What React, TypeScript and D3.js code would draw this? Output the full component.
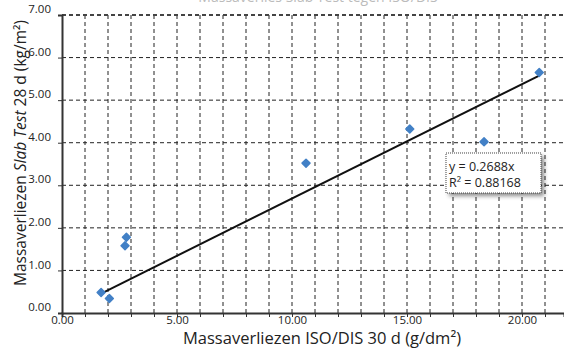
import React, { useEffect, useRef } from "react";
import * as d3 from "d3";

// meetpunten
const isoValues = [1.7, 2.06, 2.74, 2.8, 10.61, 15.12, 18.35, 20.75];
const slabValues = [0.48, 0.34, 1.58, 1.78, 3.52, 4.32, 4.02, 5.65];
const slope = 0.2688;
const eqLines = ["y = 0.2688x", "R² = 0.88168"];
const xTickLabels = [0, 5, 10, 15, 20];
const yTickLabels = [0, 1, 2, 3, 4, 5, 6, 7];

const App = () => {
  const ref = useRef<SVGSVGElement>(null);

  useEffect(() => {
    const svg = d3.select(ref.current);
    svg.selectAll("*").remove();

    const width = 564;
    const height = 349;
    const margin = { top: 15, right: 0, bottom: 36, left: 62 };
    const font = "'Open Sans', 'Liberation Sans', Arial, sans-serif";

    const x = d3
      .scaleLinear()
      .domain([0, (width - margin.left) / 23])
      .range([margin.left, width - margin.right]);
    const y = d3
      .scaleLinear()
      .domain([0, 7])
      .range([height - margin.bottom, margin.top]);

    svg
      .attr("width", width)
      .attr("height", height)
      .style("position", "absolute")
      .style("left", "0px")
      .style("top", "0px");

    // titel (afgesneden bovenaan)
    svg
      .append("text")
      .attr("x", 318)
      .attr("y", 2)
      .attr("text-anchor", "middle")
      .attr("font-family", font)
      .attr("font-size", "14px")
      .attr("fill", "#bbb")
      .text("Massaverlies Slab Test tegen ISO/DIS");

    // rasterlijnen
    const grid = svg.append("g");
    d3.range(1, Math.floor(x.domain()[1]) + 1).forEach((v) => {
      grid
        .append("line")
        .attr("x1", x(v))
        .attr("x2", x(v))
        .attr("y1", y(7))
        .attr("y2", y(0))
        .attr("stroke", "#222")
        .attr("stroke-width", 1)
        .attr("stroke-dasharray", "4,3");
    });
    yTickLabels.slice(1).forEach((v) => {
      grid
        .append("line")
        .attr("x1", x(0))
        .attr("x2", width)
        .attr("y1", y(v))
        .attr("y2", y(v))
        .attr("stroke", v === 7 ? "#444" : "#222")
        .attr("stroke-width", v === 7 ? 2 : 1)
        .attr("stroke-dasharray", "4,3");
    });

    // assen
    const xAxis = svg
      .append("g")
      .attr("transform", `translate(0,${y(0)})`)
      .call(
        d3
          .axisBottom(x)
          .tickValues(d3.range(0, Math.floor(x.domain()[1]) + 1))
          .tickSize(4)
          .tickFormat((d) => (xTickLabels.includes(+d) ? d3.format(".2f")(+d) : ""))
      );
    xAxis.select(".domain").attr("stroke", "#333").attr("stroke-width", 2);
    xAxis.selectAll(".tick line").attr("stroke", "#333");
    xAxis
      .selectAll(".tick text")
      .attr("font-family", font)
      .attr("font-size", "11.5px")
      .attr("fill", "#222")
      .attr("y", 3);

    const yAxis = svg
      .append("g")
      .attr("transform", `translate(${x(0)},0)`)
      .call(
        d3
          .axisLeft(y)
          .tickValues(yTickLabels)
          .tickSize(4)
          .tickFormat((d) => d3.format(".2f")(+d))
      );
    yAxis.select(".domain").attr("stroke", "#333").attr("stroke-width", 2);
    yAxis.selectAll(".tick line").attr("stroke", "#333");
    yAxis
      .selectAll(".tick text")
      .attr("font-family", font)
      .attr("font-size", "11.5px")
      .attr("fill", "#222")
      .attr("x", -11)
      .attr("dy", "-0.2em");

    // trendlijn
    const xMin = d3.min(isoValues) as number;
    const xMax = d3.max(isoValues) as number;
    svg
      .append("line")
      .attr("x1", x(xMin))
      .attr("y1", y(slope * xMin))
      .attr("x2", x(xMax))
      .attr("y2", y(slope * xMax))
      .attr("stroke", "#111")
      .attr("stroke-width", 2);

    // punten
    const diamond = d3.symbol().type(d3.symbolDiamond2).size(40);
    svg
      .selectAll(".pt")
      .data(isoValues.map((v, i) => ({ v, s: slabValues[i] })))
      .enter()
      .append("path")
      .attr("class", "pt")
      .attr("d", diamond)
      .attr("transform", (d) => `translate(${x(d.v)},${y(d.s)})`)
      .attr("fill", "#4280c6")
      .attr("stroke", "#4280c6")
      .attr("stroke-width", 1.5)
      .attr("stroke-linejoin", "round");

    // vergelijking
    const defs = svg.append("defs");
    const f = defs
      .append("filter")
      .attr("id", "shadow")
      .attr("x", "-20%")
      .attr("y", "-20%")
      .attr("width", "150%")
      .attr("height", "160%");
    f.append("feDropShadow")
      .attr("dx", 3)
      .attr("dy", 3)
      .attr("stdDeviation", 2)
      .attr("flood-color", "#000")
      .attr("flood-opacity", 0.45);

    const box = svg.append("g").attr("transform", "translate(446,153)");
    box
      .append("rect")
      .attr("width", 95)
      .attr("height", 40)
      .attr("fill", "#fff")
      .attr("filter", "url(#shadow)");
    box
      .append("rect")
      .attr("width", 95)
      .attr("height", 40)
      .attr("fill", "none")
      .attr("stroke", "#444")
      .attr("stroke-width", 1)
      .attr("stroke-dasharray", "1,1");
    box
      .selectAll("text")
      .data(eqLines)
      .enter()
      .append("text")
      .attr("x", 3)
      .attr("y", (d, i) => 18 + i * 16)
      .attr("font-family", font)
      .attr("font-size", "12.5px")
      .attr("fill", "#222")
      .text((d) => d);

    // astitels
    svg
      .append("text")
      .attr("x", 322)
      .attr("y", 344)
      .attr("text-anchor", "middle")
      .attr("font-family", font)
      .attr("font-size", "16.5px")
      .attr("fill", "#222")
      .text("Massaverliezen ISO/DIS 30 d (g/dm²)");

    const yt = svg
      .append("text")
      .attr("transform", "translate(26,153) rotate(-90)")
      .attr("text-anchor", "middle")
      .attr("font-family", font)
      .attr("font-size", "15.5px")
      .attr("fill", "#222");
    yt.append("tspan").text("Massaverliezen ");
    yt.append("tspan").attr("font-style", "italic").text("Slab Test");
    yt.append("tspan").text(" 28 d (kg/m²)");
  }, []);

  return <svg ref={ref}></svg>;
};

export default App;
